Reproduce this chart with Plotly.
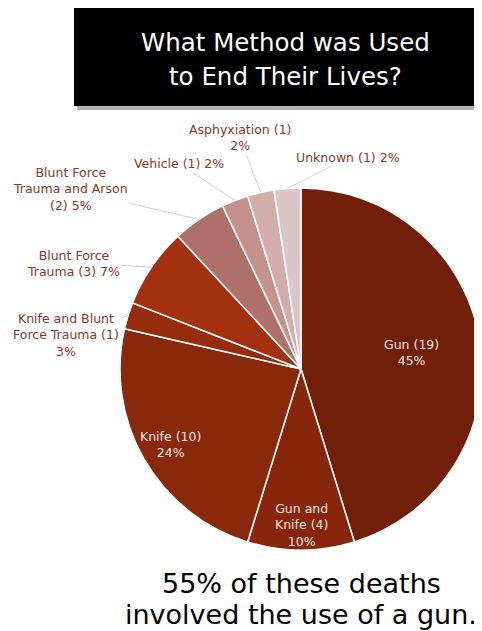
import math
import plotly.graph_objects as go

# ---- data ----
methods = ["Gun", "Gun and Knife", "Knife", "Knife and Blunt Force Trauma",
           "Blunt Force Trauma", "Blunt Force Trauma and Arson", "Vehicle",
           "Asphyxiation", "Unknown"]
counts = [19, 4, 10, 1, 3, 2, 1, 1, 1]
pct_labels = ["45%", "10%", "24%", "3%", "7%", "5%", "2%", "2%", "2%"]
display_labels = [
    "Gun (19)<br>45%",
    "Gun and<br>Knife (4)<br>10%",
    "Knife (10)<br>24%",
    "Knife and Blunt<br>Force Trauma (1)<br>3%",
    "Blunt Force<br>Trauma (3) 7%",
    "Blunt Force<br>Trauma and Arson<br>(2) 5%",
    "Vehicle (1) 2%",
    "Asphyxiation (1)<br>2%",
    "Unknown (1) 2%",
]
title_lines = ["What Method was Used", "to End Their Lives?"]
footer_lines = ["55% of these deaths", "involved the use of a gun."]

# ---- style / layout ----
colors = ["#711F08", "#88260C", "#8A280C", "#962B0E", "#A3300F",
          "#B0706A", "#C4918D", "#D2ADAB", "#DCC5C5"]
inside = [True, True, True, False, False, False, False, False, False]
inside_radial = [0.62, 0.86, 0.83, 0, 0, 0, 0, 0, 0]
# label offsets (px) from slice edge for outside labels
outside_offsets = [None, None, None, (-62, 19), (-78, -4), (-129, -30),
                   (-56, -37), (-21, -55), (61, -31)]

OFF = 8  # page body margin
W, H = 482 - OFF, 631 - OFF
CX, CY, R = 301, 369, 181
FONT = "DejaVu Sans"

def px(x):
    return (x - OFF) / W

def py(y):
    return 1 - (y - OFF) / H

fig = go.Figure()
fig.add_trace(go.Pie(
    values=counts, labels=methods, sort=False, direction="clockwise",
    rotation=0, textinfo="none", showlegend=False,
    marker=dict(colors=colors, line=dict(color="white", width=1.5)),
    domain=dict(x=[px(CX - R), px(CX + R)], y=[py(CY + R), py(CY - R)]),
))

annotations = []
total = sum(counts)
cum = 0
for i, v in enumerate(counts):
    mid = (cum + v / 2) / total * 2 * math.pi
    cum += v
    if inside[i]:
        r = inside_radial[i] * R
        x = CX + r * math.sin(mid)
        y = CY - r * math.cos(mid)
        annotations.append(dict(
            x=px(x), y=py(y), xref="paper", yref="paper", text=display_labels[i],
            showarrow=False, xanchor="center", yanchor="middle",
            font=dict(family=FONT, size=12.5, color="#F3E4DF")))
    else:
        x = CX + R * math.sin(mid)
        y = CY - R * math.cos(mid)
        ax, ay = outside_offsets[i]
        annotations.append(dict(
            x=px(x), y=py(y), xref="paper", yref="paper", text=display_labels[i],
            showarrow=True, ax=ax, ay=ay, arrowhead=0, arrowwidth=1,
            arrowcolor="#CFCFCF", standoff=0, startstandoff=0,
            xanchor="center", yanchor="middle",
            font=dict(family=FONT, size=12.5, color="#8A3828")))

# title
for txt, yy in zip(title_lines, [42, 77]):
    annotations.append(dict(x=px(285), y=py(yy), xref="paper", yref="paper",
                            text=txt, showarrow=False,
                            xanchor="center", yanchor="middle",
                            font=dict(family=FONT, size=24.5, color="white")))
# footer
for txt, yy in zip(footer_lines, [583, 614]):
    annotations.append(dict(x=px(301), y=py(yy), xref="paper", yref="paper",
                            text=txt, showarrow=False,
                            xanchor="center", yanchor="middle",
                            font=dict(family=FONT, size=27, color="black")))

shapes = [
    dict(type="rect", xref="paper", yref="paper", x0=px(77), x1=px(486),
         y0=py(110), y1=py(11), fillcolor="rgba(0,0,0,0.3)", line=dict(width=0),
         layer="below"),
    dict(type="rect", xref="paper", yref="paper", x0=px(74), x1=px(482),
         y0=py(106), y1=py(8), fillcolor="black", line=dict(width=0),
         layer="below"),
]

fig.update_layout(
    width=W, height=H, margin=dict(l=0, r=0, t=0, b=0),
    paper_bgcolor="white", plot_bgcolor="white",
    annotations=annotations, shapes=shapes,
)

fig.write_html("out.html")
